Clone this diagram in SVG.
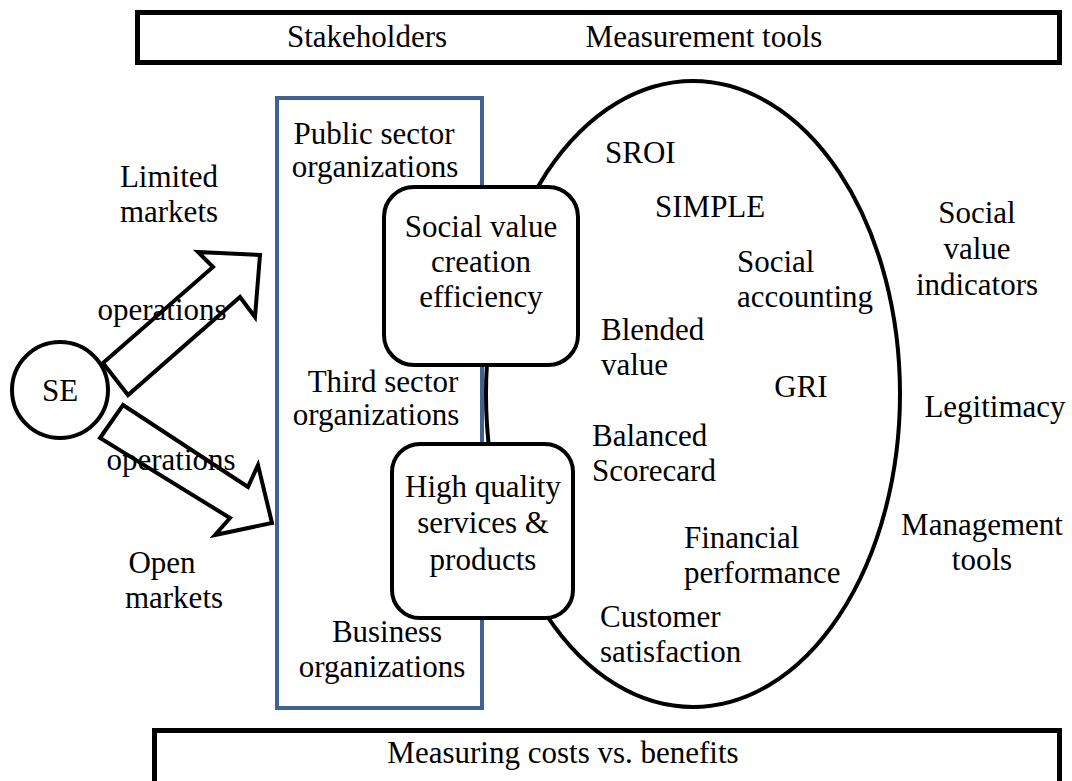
<svg xmlns="http://www.w3.org/2000/svg" width="1072" height="781" viewBox="0 0 1072 781">
  <style>
    text { font-family: 'Liberation Serif', Tinos, 'Times New Roman', serif; font-size: 31px; fill: #000; }
    .c { text-anchor: middle; }
    .band { fill: #fff; stroke: #000; stroke-width: 5; }
    .line { fill: #fff; stroke: #000; stroke-width: 4; stroke-linejoin: miter; }
    .stake { fill: #fff; stroke: #3F6293; stroke-width: 4; }
  </style>
  <rect width="1072" height="781" fill="#fff"/>

  <!-- header band -->
  <g id="header">
    <rect class="band" x="137.5" y="12.5" width="922" height="50"/>
    <text class="c" x="367" y="47">Stakeholders</text>
    <text class="c" x="704" y="47">Measurement tools</text>
  </g>

  <!-- stakeholder column -->
  <g id="stakeholders">
    <rect class="stake" x="277" y="98" width="205" height="610"/>
    <text class="c" x="374" y="144">Public sector</text>
    <text class="c" x="375" y="177">organizations</text>
    <text class="c" x="383" y="392">Third sector</text>
    <text class="c" x="376" y="425">organizations</text>
    <text class="c" x="387" y="642">Business</text>
    <text class="c" x="382" y="677">organizations</text>
  </g>

  <!-- measurement tools ellipse -->
  <g id="tools">
    <ellipse class="line" cx="693" cy="394" rx="207" ry="313"/>
    <text x="605" y="163">SROI</text>
    <text x="655" y="217">SIMPLE</text>
    <text x="737" y="272">Social</text>
    <text x="737" y="307">accounting</text>
    <text x="601" y="340">Blended</text>
    <text x="601" y="375">value</text>
    <text class="c" x="801" y="397">GRI</text>
    <text x="592" y="446">Balanced</text>
    <text x="592" y="481">Scorecard</text>
    <text x="684" y="548">Financial</text>
    <text x="684" y="583">performance</text>
    <text x="600" y="627">Customer</text>
    <text x="600" y="662">satisfaction</text>
  </g>

  <!-- outcome boxes -->
  <g id="efficiency">
    <rect class="line" x="384" y="187" width="194" height="178" rx="30"/>
    <text class="c" x="481" y="237">Social value</text>
    <text class="c" x="481" y="272">creation</text>
    <text class="c" x="481" y="307">efficiency</text>
  </g>
  <g id="quality">
    <rect class="line" x="392" y="444" width="181" height="174" rx="28"/>
    <text class="c" x="483" y="497">High quality</text>
    <text class="c" x="483" y="533">services &amp;</text>
    <text class="c" x="483" y="570">products</text>
  </g>

  <!-- social enterprise -->
  <g id="se">
    <circle class="line" cx="60" cy="390" r="48"/>
    <text class="c" x="60" y="401">SE</text>
  </g>

  <!-- market operations arrows -->
  <g id="connectors">
    <polygon class="line" points="103,363 213,267 198,252 260,255 255,317 240,297 128,395"/>
    <polygon class="line" points="123,405 248,487 258,465 272,523 215,535 230,518 100,438"/>
    <text class="c" x="162" y="320">operations</text>
    <text class="c" x="171" y="470">operations</text>
  </g>

  <!-- market labels -->
  <g id="limited-markets">
    <text class="c" x="169" y="187">Limited</text>
    <text class="c" x="169" y="222">markets</text>
  </g>
  <g id="open-markets">
    <text class="c" x="162" y="573">Open</text>
    <text class="c" x="174" y="608">markets</text>
  </g>

  <!-- outcomes on the right -->
  <g id="indicators">
    <text class="c" x="977" y="223">Social</text>
    <text class="c" x="977" y="259">value</text>
    <text class="c" x="977" y="295">indicators</text>
  </g>
  <g id="legitimacy">
    <text class="c" x="995" y="417">Legitimacy</text>
  </g>
  <g id="management">
    <text class="c" x="982" y="535">Management</text>
    <text class="c" x="982" y="570">tools</text>
  </g>

  <!-- footer band -->
  <g id="footer">
    <rect class="band" x="154.5" y="730.5" width="905" height="60"/>
    <text class="c" x="563" y="763">Measuring costs vs. benefits</text>
  </g>
</svg>
